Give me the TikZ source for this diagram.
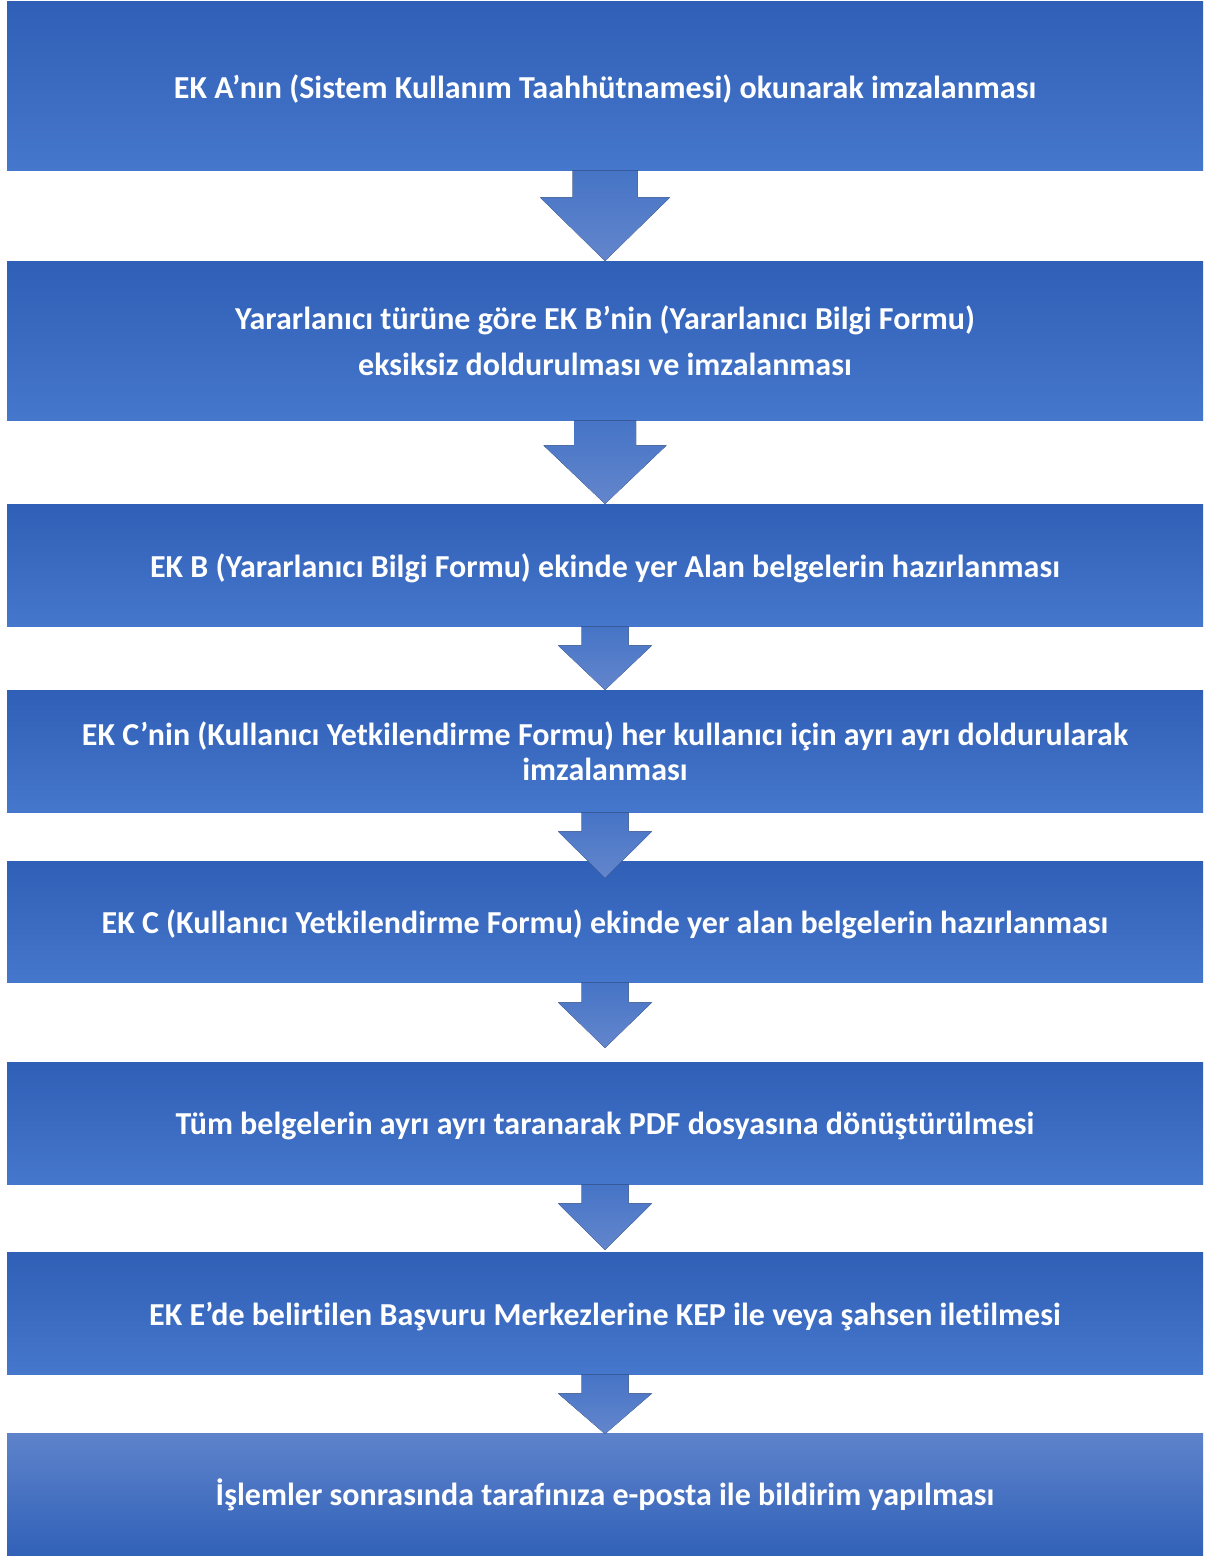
\documentclass[tikz,border=0pt]{standalone}
\usepackage{fontspec}
\setmainfont{Carlito}[RawFeature={-liga;-dlig;-clig}]
\usetikzlibrary{calc}
\definecolor{boxtop}{HTML}{2F5FB6}
\definecolor{boxbot}{HTML}{4577CC}
\definecolor{lasttop}{HTML}{5E83CB}
\definecolor{lastmid}{HTML}{4070C6}
\definecolor{lastbot}{HTML}{3161B8}
\definecolor{arrtop}{HTML}{4674C6}
\definecolor{arrbot}{HTML}{6386CC}
\newcommand\dn[1]{\raisebox{-3pt}[\height][\depth]{#1}}
\newcommand\blockarrow[5]{%
  \fill[arrowfill] ($(#1.south)+(-#3,0)$) -- ($(#1.south)+(-#3,#5)$) -- ($(#1.south)+(-#4,#5)$)
    -- (#2) -- ($(#1.south)+(#4,#5)$) -- ($(#1.south)+(#3,#5)$) -- ($(#1.south)+(#3,0)$) -- cycle;}
\begin{document}
\begin{tikzpicture}[x=1pt,y=-1pt,
  stepbox/.style={minimum width=1196pt, inner sep=0pt, anchor=north,
    top color=boxtop, bottom color=boxbot, text=white,
    font=\bfseries\fontsize{32}{35}\selectfont, align=center},
  arrowfill/.style={top color=arrtop, bottom color=arrbot}]
\useasboundingbox (0,0) rectangle (1208,1556);
\node[stepbox, minimum height=169pt] (b1) at (605,1) {\dn{EK A’nın (Sistem Kullanım Taahhütnamesi) okunarak imzalanması}};
\node[stepbox, minimum height=159pt, font=\bfseries\fontsize{32}{46}\selectfont] (b2) at (605,261) {Yararlanıcı türüne göre EK B’nin (Yararlanıcı Bilgi Formu)\\eksiksiz doldurulması ve imzalanması};
\node[stepbox, minimum height=122pt] (b3) at (605,504) {\dn{EK B (Yararlanıcı Bilgi Formu) ekinde yer Alan belgelerin hazırlanması}};
\node[stepbox, minimum height=122pt] (b4) at (605,690) {EK C’nin (Kullanıcı Yetkilendirme Formu) her kullanıcı için ayrı ayrı doldurularak\\imzalanması};
\node[stepbox, minimum height=121pt] (b5) at (605,861) {\dn{EK C (Kullanıcı Yetkilendirme Formu) ekinde yer alan belgelerin hazırlanması}};
\node[stepbox, minimum height=122pt] (b6) at (605,1062) {\dn{Tüm belgelerin ayrı ayrı taranarak PDF dosyasına dönüştürülmesi}};
\node[stepbox, minimum height=122pt] (b7) at (605,1252) {\dn{EK E’de belirtilen Başvuru Merkezlerine KEP ile veya şahsen iletilmesi}};
\node[stepbox, minimum height=123pt, top color=lasttop, middle color=lastmid, bottom color=lastbot] (b8) at (605,1433) {İşlemler sonrasında tarafınıza e-posta ile bildirim yapılması};
\blockarrow{b1}{b2.north}{32.5}{65}{27}
\blockarrow{b2}{b3.north}{31}{61.5}{25}
\blockarrow{b3}{b4.north}{23.5}{47}{19}
\blockarrow{b4}{$(b5.north)+(0,17)$}{23.5}{47}{19}
\blockarrow{b5}{$(b6.north)+(0,-14)$}{23.5}{47}{20}
\blockarrow{b6}{$(b7.north)+(0,-2)$}{23.5}{47}{19}
\blockarrow{b7}{$(b8.north)+(0,1)$}{23.5}{47}{19}
\end{tikzpicture}
\end{document}
